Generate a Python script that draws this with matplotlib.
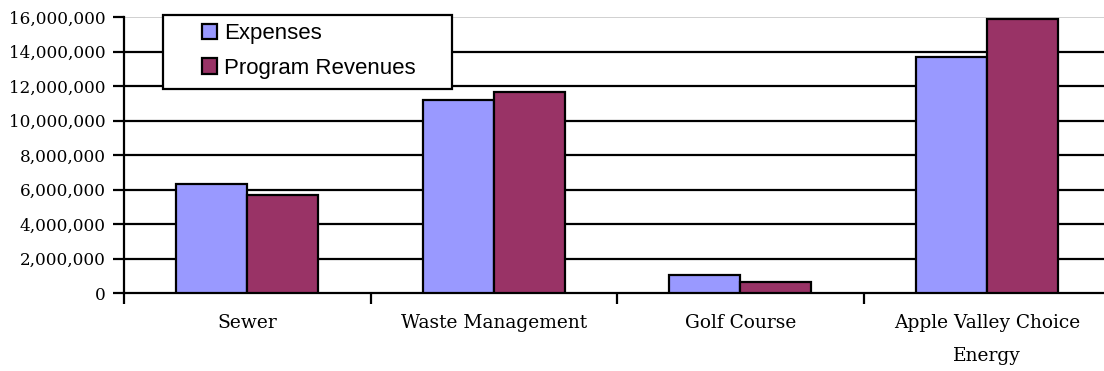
import matplotlib
matplotlib.use("Agg")
import matplotlib.pyplot as plt
import numpy as np
from matplotlib.patches import Rectangle
from matplotlib.ticker import FuncFormatter

categories = ["Sewer", "Waste Management", "Golf Course", "Apple Valley Choice\nEnergy"]
expenses = [6320000, 11190000, 1040000, 13660000]
revenues = [5680000, 11650000, 620000, 15870000]
series_names = ["Expenses", "Program Revenues"]
colors = ["#9999FF", "#993366"]

W, H = 1104, 371
fig = plt.figure(figsize=(W / 100, H / 100), dpi=100)
ax = fig.add_axes([124 / W, 78 / H, 986 / W, 276 / H])

x = np.arange(len(categories))
w = 0.288
b1 = ax.bar(x - w / 2, expenses, w, color=colors[0], edgecolor="black", linewidth=1.6, zorder=3)
b2 = ax.bar(x + w / 2, revenues, w, color=colors[1], edgecolor="black", linewidth=1.6, zorder=3)

ax.set_xlim(-0.5, len(categories) - 0.5)
ax.set_ylim(0, 16000000)
yt = np.arange(0, 16000001, 2000000)
ax.set_yticks(yt)
ax.yaxis.set_major_formatter(FuncFormatter(lambda v, p: "{:,.0f}".format(v)))
for v in yt[1:-1]:
    ax.axhline(v, color="black", lw=1.6, zorder=1)
ax.axhline(16000000, color="#c8c8c8", lw=1.2, zorder=1)

for s in ["top", "right"]:
    ax.spines[s].set_visible(False)
ax.spines["left"].set_linewidth(1.6)
ax.spines["bottom"].set_linewidth(1.6)

ax.set_xticks(np.arange(len(categories) + 1) - 0.5)
ax.set_xticklabels([])
ax.set_xticks(x, minor=True)
ax.set_xticklabels(categories, minor=True, fontfamily="DejaVu Serif", fontsize=13.4, linespacing=2.05, va="top")
ax.tick_params(axis="x", which="minor", length=0, pad=15)
ax.tick_params(axis="x", which="major", length=8, width=1.6, direction="out")
ax.tick_params(axis="y", length=8, width=1.6, direction="out", pad=5)
for lab in ax.get_yticklabels():
    lab.set_fontfamily("DejaVu Serif")
    lab.set_fontsize(12.2)

# legend box drawn separately, entries placed inside it
fig.patches.append(Rectangle((163 / W, 1 - 89 / H), 289 / W, 74 / H, transform=fig.transFigure,
                             facecolor="white", edgecolor="black", linewidth=1.6, zorder=5))
leg = fig.legend([b1, b2], series_names, loc="center left", bbox_to_anchor=(202 / W, 1 - 51 / H),
                 prop={"family": "Liberation Sans", "size": 16}, frameon=False,
                 handlelength=0.68, handleheight=0.68, handletextpad=0.3, borderpad=0,
                 labelspacing=0.6, borderaxespad=0)
leg.set_zorder(6)

fig.savefig("out.png", dpi=100)
